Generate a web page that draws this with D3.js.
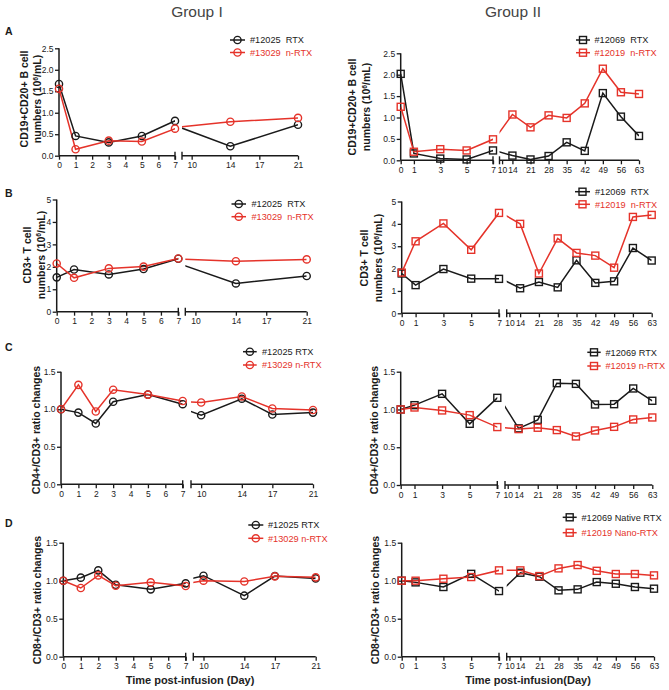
<!DOCTYPE html>
<html><head><meta charset="utf-8">
<script src="https://cdn.jsdelivr.net/npm/d3@7"></script>
<style>body{margin:0;background:#fff}svg{display:block}text{font-family:"Liberation Sans",Arial,sans-serif}</style>
</head><body>
<script>
// ---------------- DATA ----------------
const daysG1 = [0, 1, 3, 5, 7, 14, 21];
const daysG1Ratio = [0, 1, 2, 3, 5, 7, 10, 14, 17, 21];
const daysG2 = [0, 1, 3, 5, 7, 14, 21, 28, 35, 42, 49, 56, 63];

const bCellG1Rtx  = [1.67, 0.46, 0.31, 0.46, 0.81, 0.22, 0.72];
const bCellG1Nrtx = [1.56, 0.15, 0.35, 0.33, 0.63, 0.79, 0.88];
const bCellG2Rtx  = [2.02, 0.16, 0.04, 0.02, 0.23, 0.11, 0.02, 0.10, 0.42, 0.22, 1.57, 1.02, 0.57];
const bCellG2Nrtx = [1.25, 0.20, 0.26, 0.23, 0.49, 1.07, 0.77, 1.05, 0.99, 1.33, 2.14, 1.59, 1.55];

const tCellG1Rtx  = [1.53, 1.88, 1.66, 1.90, 2.36, 1.26, 1.59];
const tCellG1Nrtx = [2.15, 1.51, 1.93, 2.01, 2.37, 2.25, 2.33];
const tCellG2Rtx  = [1.78, 1.26, 1.98, 1.55, 1.54, 1.12, 1.40, 1.16, 2.37, 1.36, 1.43, 2.92, 2.36];
const tCellG2Nrtx = [1.82, 3.22, 4.02, 2.84, 4.49, 4.00, 1.78, 3.35, 2.70, 2.58, 2.04, 4.31, 4.40];

const cd4G1Rtx  = [1.00, 0.955, 0.81, 1.10, 1.195, 1.067, 0.92, 1.14, 0.93, 0.955];
const cd4G1Nrtx = [1.00, 1.325, 0.97, 1.26, 1.195, 1.11, 1.09, 1.17, 1.01, 0.99];
const cd4G2Rtx  = [1.00, 1.057, 1.207, 0.81, 1.154, 0.75, 0.863, 1.348, 1.339, 1.066, 1.07, 1.278, 1.115];
const cd4G2Nrtx = [1.00, 1.026, 0.987, 0.925, 0.767, 0.74, 0.758, 0.727, 0.643, 0.722, 0.77, 0.868, 0.894];

const cd8G1Rtx  = [1.00, 1.04, 1.136, 0.947, 0.886, 0.965, 1.066, 0.803, 1.061, 1.03];
const cd8G1Nrtx = [1.00, 0.904, 1.07, 0.934, 0.978, 0.93, 1.00, 0.99, 1.057, 1.044];
const cd8G2Rtx  = [1.00, 0.978, 0.917, 1.09, 0.864, 1.105, 1.053, 0.873, 0.886, 0.982, 0.96, 0.917, 0.895];
const cd8G2Nrtx = [1.00, 1.00, 1.026, 1.048, 1.136, 1.136, 1.061, 1.162, 1.206, 1.13, 1.088, 1.088, 1.07];

const g1Seg1Ticks = [0, 1, 2, 3, 4, 5, 6, 7];
const g1Seg2Ticks = [10, 14, 17, 21];
const g2Seg1Ticks = [0, 1, 3, 5, 7];
const g2Seg2Ticks = [10, 14, 21, 28, 35, 42, 49, 56, 63];
const yTicksBcell = [0, 0.5, 1, 1.5, 2, 2.5];
const yTicksTcell = [0, 1, 2, 3, 4, 5];
const yTicksRatio = [0, 0.5, 1, 1.5];

const groupTitles = ["Group I", "Group II"];
const panelLetters = ["A", "B", "C", "D"];
const legendA1 = ["#12025  RTX", "#13029  n-RTX"];
const legendA2 = ["#12069  RTX", "#12019  n-RTX"];
const legendC1 = ["#12025 RTX", "#13029 n-RTX"];
const legendC2 = ["#12069 RTX", "#12019 n-RTX"];
const legendD2 = ["#12069 Native RTX", "#12019 Nano-RTX"];
const yTitleB = ["CD19+CD20+ B cell", "numbers (10|6|/mL)"];
const yTitleT = ["CD3+ T cell", "numbers (10|6|/mL)"];
const yTitleCD4 = ["CD4+/CD3+ ratio changes"];
const yTitleCD8 = ["CD8+/CD3+ ratio changes"];
const xTitles = ["Time post-infusion (Day)", "Time post-infusion(Day)"];

// ---------------- STYLE / LAYOUT ----------------
const BLACK = "#1a1a1a", RED = "#e5332a";
const svg = d3.select("body").append("svg").attr("width", 669).attr("height", 690);

svg.append("text").attr("x", 197).attr("y", 17).attr("text-anchor", "middle")
  .attr("font-size", 15.5).attr("fill", "#444").text(groupTitles[0]);
svg.append("text").attr("x", 513).attr("y", 17).attr("text-anchor", "middle")
  .attr("font-size", 15.5).attr("fill", "#444").text(groupTitles[1]);
[[35], [197], [351], [527]].forEach((p, i) => {
  svg.append("text").attr("x", 5).attr("y", p[0]).attr("font-size", 10.5)
    .attr("font-weight", "bold").attr("fill", BLACK).text(panelLetters[i]);
});

const panels = [
  {s1:[59,175], s2:[182,298], d2:[9,21], y:[155.7,48.3], ymax:2.5, yt:yTicksBcell, fmt:d3.format(".1f"),
   days:daysG1, ser:[bCellG1Rtx,bCellG1Nrtx], shape:"c", t1:g1Seg1Ticks, t2:g1Seg2Ticks,
   leg:{x1:230,x2:245,tx:250,y:[40,52.5],labels:legendA1}, yt2:{lines:yTitleB, x:[24,37.5], cy:99}},
  {s1:[400.7,493], s2:[499.5,639], d2:[9,63], y:[160.3,53.3], ymax:2.5, yt:yTicksBcell, fmt:d3.format(".1f"),
   days:daysG2, ser:[bCellG2Rtx,bCellG2Nrtx], shape:"s", t1:g2Seg1Ticks, t2:g2Seg2Ticks,
   leg:{x1:576,x2:590,tx:594.5,y:[40,52.7],labels:legendA2}, yt2:{lines:yTitleB, x:[352.5,366.5], cy:107}},
  {s1:[56.7,178.3], s2:[185.3,306.7], d2:[9,21], y:[311.7,199.5], ymax:5, yt:yTicksTcell, fmt:d3.format("d"),
   days:daysG1, ser:[tCellG1Rtx,tCellG1Nrtx], shape:"c", t1:g1Seg1Ticks, t2:g1Seg2Ticks,
   leg:{x1:231.5,x2:246,tx:251.5,y:[204,216.7],labels:legendA1}, yt2:{lines:yTitleT, x:[27,41], cy:255}},
  {s1:[401.7,499], s2:[506.7,651.7], d2:[9,63], y:[313.3,201.5], ymax:5, yt:yTicksTcell, fmt:d3.format("d"),
   days:daysG2, ser:[tCellG2Rtx,tCellG2Nrtx], shape:"s", t1:g2Seg1Ticks, t2:g2Seg2Ticks,
   leg:{x1:575,x2:590,tx:595,y:[191.7,204.3],labels:legendA2}, yt2:{lines:yTitleT, x:[364.5,378.5], cy:258}},
  {s1:[61,182.7], s2:[191,313], d2:[9,21], y:[484.3,371.7], ymax:1.5, yt:yTicksRatio, fmt:d3.format(".1f"),
   days:daysG1Ratio, ser:[cd4G1Rtx,cd4G1Nrtx], shape:"c", t1:g1Seg1Ticks, t2:g1Seg2Ticks,
   leg:{x1:243,x2:256.7,tx:262,y:[351.7,365],labels:legendC1}, yt2:{lines:yTitleCD4, x:[36], cy:430}},
  {s1:[400.7,497.3], s2:[505,652.3], d2:[9,63], y:[485,371.7], ymax:1.5, yt:yTicksRatio, fmt:d3.format(".1f"),
   days:daysG2, ser:[cd4G2Rtx,cd4G2Nrtx], shape:"s", t1:g2Seg1Ticks, t2:g2Seg2Ticks,
   leg:{x1:587.3,x2:600.7,tx:605.5,y:[352.3,366],labels:legendC2}, yt2:{lines:yTitleCD4, x:[374.5], cy:430}},
  {s1:[63.3,185.7], s2:[193.3,315.7], d2:[9,21], y:[656.7,542.7], ymax:1.5, yt:yTicksRatio, fmt:d3.format(".1f"),
   days:daysG1Ratio, ser:[cd8G1Rtx,cd8G1Nrtx], shape:"c", t1:g1Seg1Ticks, t2:g1Seg2Ticks,
   leg:{x1:248.3,x2:263.3,tx:268,y:[525,538.3],labels:legendC1}, yt2:{lines:yTitleCD8, x:[37.5], cy:600},
   xt:{text:xTitles[0], x:190}},
  {s1:[401.7,499], s2:[506.7,654], d2:[9,63], y:[656.7,542.7], ymax:1.5, yt:yTicksRatio, fmt:d3.format(".1f"),
   days:daysG2, ser:[cd8G2Rtx,cd8G2Nrtx], shape:"s", t1:g2Seg1Ticks, t2:g2Seg2Ticks,
   leg:{x1:562.7,x2:576.7,tx:581.5,y:[517.3,532.7],labels:legendD2}, yt2:{lines:yTitleCD8, x:[375.7], cy:600},
   xt:{text:xTitles[1], x:528}}
];

const COLORS = [BLACK, RED];
const defs = svg.append("defs");

function marker(g, shape, x, y, color) {
  if (shape === "c") {
    g.append("circle").attr("cx", x).attr("cy", y).attr("r", 3.6)
      .attr("fill", "none").attr("stroke", color).attr("stroke-width", 1.4);
  } else {
    g.append("rect").attr("x", x - 3.5).attr("y", y - 3.5).attr("width", 7).attr("height", 7)
      .attr("fill", "none").attr("stroke", color).attr("stroke-width", 1.4);
  }
}

panels.forEach((p, pi) => {
  const g = svg.append("g");
  const y = d3.scaleLinear().domain([0, p.ymax]).range(p.y);
  const y0 = p.y[0];
  const segs = [
    {x: d3.scaleLinear().domain([0, 7]).range(p.s1), r: p.s1, ticks: p.t1, d: [0, 7]},
    {x: d3.scaleLinear().domain(p.d2).range(p.s2), r: p.s2, ticks: p.t2, d: p.d2}
  ];
  // y axis
  const yAxis = d3.axisLeft(y).tickValues(p.yt).tickFormat(p.fmt).tickSize(4).tickPadding(1.5);
  const ya = g.append("g").attr("transform", `translate(${p.s1[0]},0)`).call(yAxis);
  ya.select(".domain").attr("stroke", BLACK).attr("stroke-width", 1.5).attr("d", `M0,${y0}V${p.y[1]}`);
  ya.selectAll(".tick line").attr("stroke", BLACK).attr("stroke-width", 1.3);
  ya.selectAll(".tick text").attr("font-size", 8.5).attr("fill", BLACK).attr("font-family", '"Liberation Sans",Arial,sans-serif');

  segs.forEach((s, si) => {
    const xAxis = d3.axisBottom(s.x).tickValues(s.ticks).tickFormat(d3.format("d")).tickSize(4).tickPadding(2.5);
    const xa = g.append("g").attr("transform", `translate(0,${y0})`).call(xAxis);
    xa.select(".domain").attr("stroke", BLACK).attr("stroke-width", 1.5).attr("d", `M${s.r[0]},0H${s.r[1]}`);
    xa.selectAll(".tick line").attr("stroke", BLACK).attr("stroke-width", 1.3);
    xa.selectAll(".tick text").attr("font-size", 8.5).attr("fill", BLACK).attr("font-family", '"Liberation Sans",Arial,sans-serif');
    // break bars
    const bx = si === 0 ? s.r[1] : s.r[0];
    g.append("line").attr("x1", bx).attr("x2", bx).attr("y1", y0 - 4).attr("y2", y0 + 4)
      .attr("stroke", BLACK).attr("stroke-width", 1.4);
    // clip
    const cid = `clip${pi}_${si}`;
    defs.append("clipPath").attr("id", cid).append("rect")
      .attr("x", s.r[0]).attr("y", 0).attr("width", s.r[1] - s.r[0]).attr("height", 690);
    const line = d3.line().x(d => s.x(d[0])).y(d => y(d[1]));
    p.ser.forEach((vals, k) => {
      const pts = p.days.map((d, i) => [d, vals[i]]);
      g.append("path").attr("clip-path", `url(#${cid})`).attr("d", line(pts))
        .attr("fill", "none").attr("stroke", COLORS[k]).attr("stroke-width", 1.5);
    });
  });
  // markers (red drawn after black)
  p.ser.forEach((vals, k) => {
    p.days.forEach((d, i) => {
      const s = d <= 7 ? segs[0] : segs[1];
      marker(g, p.shape, s.x(d), y(vals[i]), COLORS[k]);
    });
  });
  // legend
  p.leg.labels.forEach((lab, k) => {
    const ly = p.leg.y[k];
    g.append("line").attr("x1", p.leg.x1).attr("x2", p.leg.x2).attr("y1", ly).attr("y2", ly)
      .attr("stroke", COLORS[k]).attr("stroke-width", 1.5);
    marker(g, p.shape, (p.leg.x1 + p.leg.x2) / 2, ly, COLORS[k]);
    g.append("text").attr("x", p.leg.tx).attr("y", ly).attr("dy", "0.35em")
      .attr("font-size", 9.2).attr("fill", COLORS[k]).style("white-space", "pre").text(lab);
  });
  // y title
  p.yt2.lines.forEach((ln, k) => {
    const t = g.append("text").attr("transform", `translate(${p.yt2.x[k]},${p.yt2.cy}) rotate(-90)`)
      .attr("text-anchor", "middle").attr("dy", "0.35em").attr("font-size", 10.5)
      .attr("font-weight", "bold").attr("fill", BLACK);
    const parts = ln.split("|");
    if (parts.length === 3) {
      t.append("tspan").text(parts[0]);
      t.append("tspan").attr("font-size", 6.8).attr("dy", "-0.5em").text(parts[1]);
      t.append("tspan").attr("dy", "0.32em").text(parts[2]);
    } else t.text(ln);
  });
  if (p.xt) {
    g.append("text").attr("x", p.xt.x).attr("y", 684).attr("text-anchor", "middle")
      .attr("font-size", 11).attr("font-weight", "bold").attr("fill", "#222").text(p.xt.text);
  }
});
</script>
</body></html>
